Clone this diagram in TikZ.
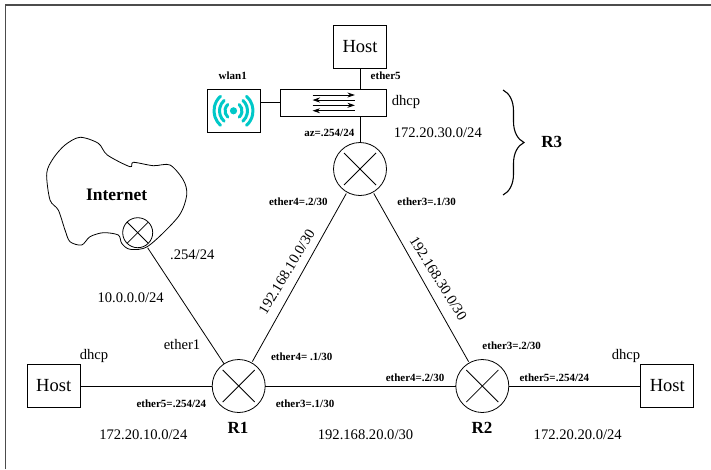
\documentclass[tikz,border=0pt]{standalone}
\usepackage{fontspec}
\setmainfont{Liberation Serif}
\usetikzlibrary{arrows.meta,positioning,calc,decorations.pathreplacing}
\definecolor{wifi}{HTML}{00C8C8}
\begin{document}
\begin{tikzpicture}[
x=1pt,y=-1pt,line width=0.8pt,
router/.style={circle,draw,minimum size=53pt,inner sep=0pt,outer sep=0pt,path picture={
  \draw (path picture bounding box.center) ++(-16pt,-16pt) -- ++(32pt,32pt);
  \draw (path picture bounding box.center) ++(-16pt,16pt) -- ++(32pt,-32pt);}},
gate/.style={circle,draw,minimum size=30pt,inner sep=0pt,outer sep=0pt,path picture={
  \draw (path picture bounding box.center) ++(-11pt,-11pt) -- ++(22pt,22pt);
  \draw (path picture bounding box.center) ++(-11pt,11pt) -- ++(22pt,-22pt);}},
box/.style={rectangle,draw,inner sep=0pt,outer sep=0pt},
host/.style={box,minimum width=53pt,minimum height=42.5pt,font=\fontsize{18.5}{20}\selectfont},
ip/.style={font=\fontsize{14.6}{16}\selectfont,inner sep=0pt},
port/.style={font=\fontsize{11}{12}\selectfont\bfseries,inner sep=0pt},
title/.style={font=\fontsize{17.5}{19}\selectfont\bfseries,inner sep=0pt},
rname/.style={font=\fontsize{17}{19}\selectfont\bfseries,inner sep=0pt},
arr/.style={-{Stealth[length=7.5pt,width=5pt]}},
wave/.style={wifi,line width=3pt,line cap=round}
]
\useasboundingbox (0,0) rectangle (711,469);
\draw[line width=1.2pt,gray!60!black] (5.6,469) -- (5.6,5) -- (711,5);

\node[router] (r1) at (238.7,386) {};
\node[router] (r2) at (482.3,386) {};
\node[router] (r3) at (360,169) {};
\node[box,minimum width=106pt,minimum height=27pt,above=26.2pt of r3,xshift=-26.3pt] (sw) {};
\node[host,above=21.3pt of sw.north-|r3] (hostc) {Host};
\node[box,minimum width=53pt,minimum height=43pt,left=20.7pt of sw.north west,anchor=north east] (ap) {};
\node[host,left=132pt of r1] (hostl) {Host};
\node[host,right=132pt of r2] (hostr) {Host};

% internet cloud
\draw plot[smooth cycle,tension=0.5] coordinates {
(65,145) (80,137.3) (98.3,143.3) (107.3,155) (130,166.7) (133.3,162.3) (153.3,165.7) (170,165) (183.3,180) (186.7,195)
(178.3,216.7) (148.3,246) (130,249.3) (121.7,243.3) (118.3,235) (103.3,232.7) (90,236.7) (81.7,245) (70,241.7) (65,230)
(58.3,210) (50,200) (46.7,173.3) (53.3,158.3)};
\node[gate] (gw) at (137.7,232.7) {};
\node[title] (inet) at (116.7,195) {Internet};

% links
\draw (hostc) -- (hostc|-sw.north);
\draw (sw.south-|r3) -- (r3);
\draw (ap.east|-sw) -- (sw);
\draw (hostl) -- (r1);
\draw (r1) -- (r2);
\draw (r2) -- (hostr);
\draw[shorten <=3pt] (gw) -- (r1);
\draw[shorten <=1.5pt,shorten >=1.5pt] (r1) -- (r3);
\draw[shorten <=1.5pt,shorten >=1.5pt] (r3) -- (r2);

% switch arrows
\foreach \yy/\dir in {-7.8/1,-2.8/-1,2.5/1,7.9/-1} {
  \draw[arr] ($(sw.center)+({-21.2*\dir},\yy)$) -- ($(sw.center)+({21.2*\dir},\yy)$);
}

% wifi symbol
\fill[wifi] (ap.center) circle (3.6pt);
\foreach \rr in {8.5,14,19.5} {
  \draw[wave] ($(ap.center)+(-48:\rr)$) arc[start angle=-48,end angle=48,radius=\rr];
  \draw[wave] ($(ap.center)+(132:\rr)$) arc[start angle=132,end angle=228,radius=\rr];
}

% brace
\draw[decorate,decoration={brace,amplitude=21pt},line width=1.1pt] (503,90) -- (503,195);
\node[rname] (r3name) at (551.7,141.7) {R3};
\node[rname] (r1name) at (238,427.7) {R1};
\node[rname] (r2name) at (482,427.7) {R2};

% networks
\node[ip] (netc) at (437.8,133) {172.20.30.0/24};
\node[ip] (netl) at (143.3,434.3) {172.20.10.0/24};
\node[ip] (netr) at (577.7,434.3) {172.20.20.0/24};
\node[ip] (netb) at (365.5,434.3) {192.168.20.0/30};
\node[ip,rotate=59] (neta) at (286.7,271.7) {192.168.10.0/30};
\node[ip,rotate=-58] (netd) at (438.3,278.3) {192.168.30.0/30};
\node[ip] (netw) at (130.7,297.3) {10.0.0.0/24};
\node[ip] (gwip) at (192.3,254.3) {.254/24};
\node[ip] (eth1) at (182,344.3) {ether1};
\node[ip] (dhcpc) at (406,101.7) {dhcp};
\node[ip] (dhcpl) at (94,356) {dhcp};
\node[ip] (dhcpr) at (626,356) {dhcp};

% ports
\node[port] (wlan) at (232.7,75.3) {wlan1};
\node[port] (eth5c) at (385.7,75.3) {ether5};
\node[port] (az) at (329.3,133.3) {az=.254/24};
\node[port] (r3e4) at (298.3,202) {ether4=.2/30};
\node[port] (r3e3) at (426.7,202) {ether3=.1/30};
\node[port] (r1e4) at (301.7,356.5) {ether4= .1/30};
\node[port] (r1e5) at (171.3,403.3) {ether5=.254/24};
\node[port] (r1e3) at (305,403.3) {ether3=.1/30};
\node[port] (r2e4) at (415,377.3) {ether4=.2/30};
\node[port] (r2e3) at (511.7,345.3) {ether3=.2/30};
\node[port] (r2e5) at (554.3,377.3) {ether5=.254/24};
\end{tikzpicture}
\end{document}
